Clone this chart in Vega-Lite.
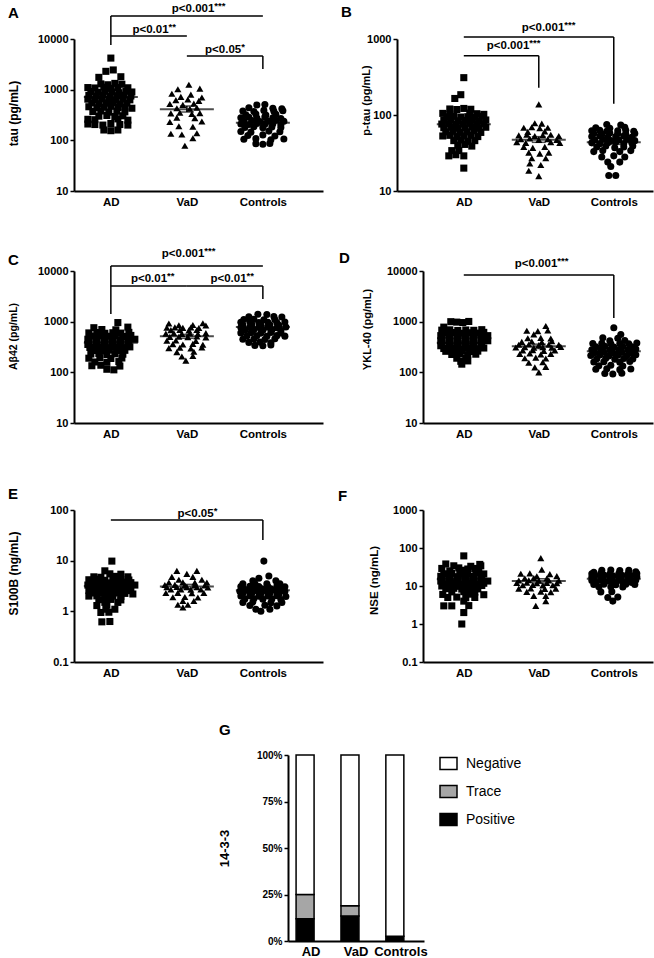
{
  "$schema": "https://vega.github.io/schema/vega-lite/v6.json",
  "background": "white",
  "padding": {"left": 7, "top": 0, "right": 2, "bottom": 2},
  "config": {
    "font": "Liberation Sans",
    "view": {"stroke": null},
    "axis": {"grid": false, "domainColor": "black", "domainWidth": 2, "tickColor": "black", "tickWidth": 1.5, "labelColor": "black", "titleColor": "black", "labelFontWeight": "bold", "titleFontWeight": "bold", "titleFontSize": 11},
    "axisX": {"ticks": false, "labelFontSize": 11.5, "labelPadding": 5, "labelAngle": 0},
    "axisY": {"tickSize": 4, "labelFontSize": 11, "labelPadding": 2, "titleAngle": -90, "titleBaseline": "middle", "titleAlign": "center", "format": "~g"},
    "title": {"fontSize": 15, "fontWeight": "bold", "anchor": "start", "frame": "group", "color": "black"}
  },
  "datasets": {
    "pa": [
      {"g":"AD","v":4200,"j":0},{"g":"AD","v":2300,"j":-0.25},{"g":"AD","v":2450,"j":0.12},{"g":"AD","v":1750,"j":-0.6},{"g":"AD","v":1800,"j":0.5},
      {"g":"AD","v":1300,"j":-0.5},{"g":"AD","v":1250,"j":-0.15},{"g":"AD","v":1330,"j":0.2},{"g":"AD","v":1280,"j":0.55},
      {"g":"AD","v":1100,"j":-1.15},{"g":"AD","v":1080,"j":-0.8},{"g":"AD","v":1120,"j":-0.35},{"g":"AD","v":1060,"j":0},{"g":"AD","v":1100,"j":0.35},{"g":"AD","v":1090,"j":0.85},
      {"g":"AD","v":920,"j":-1.0},{"g":"AD","v":890,"j":-0.65},{"g":"AD","v":940,"j":-0.3},{"g":"AD","v":900,"j":0.05},{"g":"AD","v":870,"j":0.4},{"g":"AD","v":930,"j":0.75},{"g":"AD","v":900,"j":1.05},
      {"g":"AD","v":770,"j":-1.1},{"g":"AD","v":750,"j":-0.75},{"g":"AD","v":790,"j":-0.4},{"g":"AD","v":740,"j":-0.05},{"g":"AD","v":760,"j":0.3},{"g":"AD","v":780,"j":0.65},{"g":"AD","v":750,"j":1.0},
      {"g":"AD","v":650,"j":-1.15},{"g":"AD","v":630,"j":-0.8},{"g":"AD","v":660,"j":-0.45},{"g":"AD","v":640,"j":-0.1},{"g":"AD","v":620,"j":0.25},{"g":"AD","v":650,"j":0.6},{"g":"AD","v":630,"j":0.95},
      {"g":"AD","v":550,"j":-0.95},{"g":"AD","v":530,"j":-0.6},{"g":"AD","v":540,"j":-0.25},{"g":"AD","v":560,"j":0.1},{"g":"AD","v":520,"j":0.45},{"g":"AD","v":545,"j":0.8},
      {"g":"AD","v":460,"j":-1.1},{"g":"AD","v":440,"j":-0.7},{"g":"AD","v":450,"j":-0.35},{"g":"AD","v":470,"j":0},{"g":"AD","v":445,"j":0.35},{"g":"AD","v":455,"j":0.7},{"g":"AD","v":430,"j":1.05},
      {"g":"AD","v":370,"j":-0.9},{"g":"AD","v":380,"j":-0.5},{"g":"AD","v":360,"j":-0.1},{"g":"AD","v":375,"j":0.3},{"g":"AD","v":365,"j":0.7},
      {"g":"AD","v":300,"j":-0.6},{"g":"AD","v":310,"j":-0.2},{"g":"AD","v":295,"j":0.2},{"g":"AD","v":305,"j":0.6},
      {"g":"AD","v":260,"j":-1.15},{"g":"AD","v":255,"j":-0.8},{"g":"AD","v":265,"j":0.35},{"g":"AD","v":250,"j":0.85},
      {"g":"AD","v":210,"j":-1.15},{"g":"AD","v":205,"j":-0.8},{"g":"AD","v":200,"j":-0.4},{"g":"AD","v":215,"j":0},{"g":"AD","v":205,"j":0.45},{"g":"AD","v":200,"j":0.85},
      {"g":"AD","v":160,"j":-0.35},{"g":"AD","v":155,"j":0},{"g":"AD","v":160,"j":0.35},
      {"g":"VaD","v":1250,"j":0.1},{"g":"VaD","v":1020,"j":-0.45},{"g":"VaD","v":1050,"j":0.65},{"g":"VaD","v":830,"j":-0.75},{"g":"VaD","v":800,"j":0.2},
      {"g":"VaD","v":720,"j":-0.3},{"g":"VaD","v":700,"j":0.75},{"g":"VaD","v":620,"j":-0.55},{"g":"VaD","v":640,"j":0.05},{"g":"VaD","v":600,"j":0.6},
      {"g":"VaD","v":520,"j":-0.85},{"g":"VaD","v":500,"j":-0.2},{"g":"VaD","v":530,"j":0.35},{"g":"VaD","v":430,"j":-0.5},{"g":"VaD","v":420,"j":0.15},{"g":"VaD","v":440,"j":0.5},
      {"g":"VaD","v":340,"j":-0.8},{"g":"VaD","v":350,"j":-0.35},{"g":"VaD","v":330,"j":0.25},{"g":"VaD","v":345,"j":0.65},{"g":"VaD","v":280,"j":-0.5},{"g":"VaD","v":275,"j":0.4},
      {"g":"VaD","v":230,"j":-0.85},{"g":"VaD","v":235,"j":0.75},{"g":"VaD","v":190,"j":-0.4},{"g":"VaD","v":185,"j":0.3},
      {"g":"VaD","v":135,"j":-0.8},{"g":"VaD","v":130,"j":-0.25},{"g":"VaD","v":138,"j":0.5},{"g":"VaD","v":110,"j":0.3},{"g":"VaD","v":78,"j":-0.1},
      {"g":"Controls","v":500,"j":-0.3},{"g":"Controls","v":510,"j":0.1},{"g":"Controls","v":440,"j":-0.7},{"g":"Controls","v":430,"j":0.5},{"g":"Controls","v":420,"j":0.95},
      {"g":"Controls","v":380,"j":-1.0},{"g":"Controls","v":370,"j":-0.45},{"g":"Controls","v":390,"j":0.05},{"g":"Controls","v":375,"j":0.55},{"g":"Controls","v":385,"j":1.0},
      {"g":"Controls","v":320,"j":-0.85},{"g":"Controls","v":330,"j":-0.35},{"g":"Controls","v":315,"j":0.15},{"g":"Controls","v":325,"j":0.65},
      {"g":"Controls","v":280,"j":-1.1},{"g":"Controls","v":285,"j":-0.7},{"g":"Controls","v":275,"j":-0.3},{"g":"Controls","v":290,"j":0.1},{"g":"Controls","v":280,"j":0.5},{"g":"Controls","v":270,"j":0.9},
      {"g":"Controls","v":240,"j":-0.95},{"g":"Controls","v":245,"j":-0.55},{"g":"Controls","v":235,"j":-0.15},{"g":"Controls","v":240,"j":0.25},{"g":"Controls","v":250,"j":0.65},{"g":"Controls","v":238,"j":1.05},
      {"g":"Controls","v":210,"j":-1.1},{"g":"Controls","v":205,"j":-0.7},{"g":"Controls","v":215,"j":-0.3},{"g":"Controls","v":208,"j":0.1},{"g":"Controls","v":212,"j":0.5},{"g":"Controls","v":205,"j":0.9},
      {"g":"Controls","v":180,"j":-0.9},{"g":"Controls","v":185,"j":-0.45},{"g":"Controls","v":178,"j":0},{"g":"Controls","v":183,"j":0.45},{"g":"Controls","v":180,"j":0.9},
      {"g":"Controls","v":150,"j":-1.1},{"g":"Controls","v":145,"j":-0.6},{"g":"Controls","v":152,"j":0.3},{"g":"Controls","v":148,"j":0.85},
      {"g":"Controls","v":125,"j":-0.75},{"g":"Controls","v":128,"j":0},{"g":"Controls","v":122,"j":0.6},
      {"g":"Controls","v":105,"j":-0.95},{"g":"Controls","v":108,"j":-0.35},{"g":"Controls","v":103,"j":0.4},{"g":"Controls","v":106,"j":1.05},
      {"g":"Controls","v":86,"j":-0.35},{"g":"Controls","v":84,"j":0},{"g":"Controls","v":87,"j":0.35}
    ],
    "ma": [{"g":"AD","v":716},{"g":"VaD","v":409},{"g":"Controls","v":223}],
    "sa": [{"g":"AD","v":630,"v2":810},{"g":"VaD","v":362,"v2":476},{"g":"Controls","v":205,"v2":243}],
    "ba": [{"g":"AD","b":"Controls","v":28400,"v2":28400},{"g":"AD","b":"AD","v":28400,"v2":7620},{"g":"AD","b":"VaD","v":11460,"v2":11460},{"g":"VaD","b":"Controls","v":4620,"v2":4620},{"g":"Controls","b":"Controls","v":4620,"v2":2560}],
    "ta": [{"g":"VaD","j":1.375,"v":39100,"t":"p<0.001","s":"***"},{"g":"AD","j":2.885,"v":15060,"t":"p<0.01","s":"**"},{"g":"Controls","j":-1.085,"v":6070,"t":"p<0.05","s":"*"}],
    "pb": [
      {"g":"AD","v":310,"j":0},{"g":"AD","v":185,"j":-0.15},{"g":"AD","v":165,"j":-0.45},
      {"g":"AD","v":120,"j":-0.7},{"g":"AD","v":118,"j":-0.35},{"g":"AD","v":122,"j":0},{"g":"AD","v":119,"j":0.35},
      {"g":"AD","v":105,"j":-1.05},{"g":"AD","v":103,"j":-0.7},{"g":"AD","v":106,"j":0.3},{"g":"AD","v":104,"j":0.65},{"g":"AD","v":102,"j":1.0},
      {"g":"AD","v":95,"j":-0.85},{"g":"AD","v":96,"j":-0.5},{"g":"AD","v":94,"j":-0.15},{"g":"AD","v":95,"j":0.2},{"g":"AD","v":93,"j":0.55},{"g":"AD","v":96,"j":0.9},
      {"g":"AD","v":85,"j":-1.0},{"g":"AD","v":86,"j":-0.65},{"g":"AD","v":84,"j":-0.3},{"g":"AD","v":85,"j":0.05},{"g":"AD","v":87,"j":0.4},{"g":"AD","v":84,"j":0.75},{"g":"AD","v":86,"j":1.1},
      {"g":"AD","v":76,"j":-1.1},{"g":"AD","v":77,"j":-0.75},{"g":"AD","v":75,"j":-0.4},{"g":"AD","v":76,"j":-0.05},{"g":"AD","v":78,"j":0.3},{"g":"AD","v":75,"j":0.65},{"g":"AD","v":77,"j":1.0},
      {"g":"AD","v":68,"j":-1.0},{"g":"AD","v":69,"j":-0.65},{"g":"AD","v":67,"j":-0.3},{"g":"AD","v":68,"j":0.05},{"g":"AD","v":70,"j":0.4},{"g":"AD","v":67,"j":0.75},{"g":"AD","v":69,"j":1.1},
      {"g":"AD","v":60,"j":-0.9},{"g":"AD","v":61,"j":-0.55},{"g":"AD","v":59,"j":-0.2},{"g":"AD","v":60,"j":0.15},{"g":"AD","v":62,"j":0.5},{"g":"AD","v":59,"j":0.85},
      {"g":"AD","v":53,"j":-1.05},{"g":"AD","v":54,"j":-0.7},{"g":"AD","v":52,"j":-0.35},{"g":"AD","v":53,"j":0},{"g":"AD","v":54,"j":0.35},{"g":"AD","v":52,"j":0.7},
      {"g":"AD","v":46,"j":-0.5},{"g":"AD","v":47,"j":-0.15},{"g":"AD","v":45,"j":0.2},{"g":"AD","v":46,"j":0.55},
      {"g":"AD","v":40,"j":-0.3},{"g":"AD","v":41,"j":0.05},{"g":"AD","v":39,"j":0.4},{"g":"AD","v":34,"j":-0.6},{"g":"AD","v":34,"j":-0.25},
      {"g":"AD","v":29,"j":-0.75},{"g":"AD","v":30,"j":-0.4},{"g":"AD","v":29,"j":0},{"g":"AD","v":20,"j":0},
      {"g":"VaD","v":138,"j":0},{"g":"VaD","v":78,"j":-0.2},{"g":"VaD","v":77,"j":0.15},
      {"g":"VaD","v":68,"j":-0.75},{"g":"VaD","v":69,"j":-0.35},{"g":"VaD","v":67,"j":0.05},{"g":"VaD","v":68,"j":0.45},{"g":"VaD","v":60,"j":-0.55},{"g":"VaD","v":61,"j":0.3},
      {"g":"VaD","v":54,"j":-1.0},{"g":"VaD","v":55,"j":-0.6},{"g":"VaD","v":53,"j":-0.2},{"g":"VaD","v":54,"j":0.2},{"g":"VaD","v":55,"j":0.6},{"g":"VaD","v":53,"j":1.0},
      {"g":"VaD","v":48,"j":-0.9},{"g":"VaD","v":49,"j":-0.45},{"g":"VaD","v":47,"j":0},{"g":"VaD","v":48,"j":0.45},{"g":"VaD","v":47,"j":0.9},
      {"g":"VaD","v":44,"j":-1.1},{"g":"VaD","v":43,"j":-0.65},{"g":"VaD","v":44,"j":0.6},{"g":"VaD","v":43,"j":1.05},
      {"g":"VaD","v":38,"j":-0.75},{"g":"VaD","v":37,"j":-0.3},{"g":"VaD","v":38,"j":0.3},{"g":"VaD","v":32,"j":-0.5},{"g":"VaD","v":31,"j":0.05},{"g":"VaD","v":32,"j":0.5},
      {"g":"VaD","v":27,"j":-0.35},{"g":"VaD","v":27,"j":0.35},{"g":"VaD","v":23,"j":-0.45},{"g":"VaD","v":22,"j":0.1},{"g":"VaD","v":18.5,"j":-0.5},{"g":"VaD","v":15.7,"j":0},
      {"g":"Controls","v":75,"j":-0.35},{"g":"Controls","v":74,"j":0.35},{"g":"Controls","v":68,"j":-0.9},{"g":"Controls","v":67,"j":-0.2},{"g":"Controls","v":69,"j":0.55},
      {"g":"Controls","v":62,"j":-1.1},{"g":"Controls","v":63,"j":-0.7},{"g":"Controls","v":61,"j":-0.35},{"g":"Controls","v":62,"j":0.2},{"g":"Controls","v":63,"j":0.6},{"g":"Controls","v":61,"j":1.0},
      {"g":"Controls","v":57,"j":-1.0},{"g":"Controls","v":56,"j":-0.6},{"g":"Controls","v":58,"j":-0.2},{"g":"Controls","v":57,"j":0.2},{"g":"Controls","v":56,"j":0.6},{"g":"Controls","v":57,"j":1.05},
      {"g":"Controls","v":52,"j":-1.1},{"g":"Controls","v":53,"j":-0.7},{"g":"Controls","v":51,"j":-0.3},{"g":"Controls","v":52,"j":0.1},{"g":"Controls","v":53,"j":0.5},{"g":"Controls","v":51,"j":0.9},
      {"g":"Controls","v":47,"j":-0.95},{"g":"Controls","v":48,"j":-0.55},{"g":"Controls","v":46,"j":-0.15},{"g":"Controls","v":47,"j":0.25},{"g":"Controls","v":48,"j":0.65},{"g":"Controls","v":46,"j":1.05},
      {"g":"Controls","v":43,"j":-1.1},{"g":"Controls","v":42,"j":-0.7},{"g":"Controls","v":43,"j":-0.3},{"g":"Controls","v":44,"j":0.1},{"g":"Controls","v":42,"j":0.5},{"g":"Controls","v":43,"j":0.9},
      {"g":"Controls","v":38,"j":-0.85},{"g":"Controls","v":39,"j":-0.4},{"g":"Controls","v":37,"j":0.05},{"g":"Controls","v":38,"j":0.5},{"g":"Controls","v":39,"j":0.95},
      {"g":"Controls","v":33,"j":-1.0},{"g":"Controls","v":34,"j":-0.55},{"g":"Controls","v":33,"j":0.3},{"g":"Controls","v":34,"j":0.85},
      {"g":"Controls","v":28,"j":-0.6},{"g":"Controls","v":29,"j":0},{"g":"Controls","v":28,"j":0.55},{"g":"Controls","v":24,"j":-0.3},{"g":"Controls","v":24,"j":0.3},
      {"g":"Controls","v":21,"j":-0.15},{"g":"Controls","v":16,"j":-0.25},{"g":"Controls","v":16,"j":0.1}
    ],
    "mb": [{"g":"AD","v":75.8},{"g":"VaD","v":47.4},{"g":"Controls","v":43.7}],
    "sb": [{"g":"AD","v":71,"v2":81},{"g":"VaD","v":43.7,"v2":51.9},{"g":"Controls","v":41,"v2":47}],
    "bb": [{"g":"AD","b":"Controls","v":1062,"v2":1062},{"g":"Controls","b":"Controls","v":1062,"v2":141},{"g":"AD","b":"VaD","v":600,"v2":600},{"g":"VaD","b":"VaD","v":600,"v2":229}],
    "tb": [{"g":"VaD","j":1.275,"v":1393,"t":"p<0.001","s":"***"},{"g":"VaD","j":-0.475,"v":810,"t":"p<0.001","s":"***"}],
    "pc": [
      {"g":"AD","v":960,"j":0.35},{"g":"AD","v":760,"j":-0.85},{"g":"AD","v":780,"j":0.85},{"g":"AD","v":700,"j":-0.45},{"g":"AD","v":690,"j":0.25},
      {"g":"AD","v":600,"j":-1.1},{"g":"AD","v":610,"j":-0.7},{"g":"AD","v":590,"j":-0.3},{"g":"AD","v":605,"j":0.1},{"g":"AD","v":595,"j":0.5},{"g":"AD","v":615,"j":0.9},
      {"g":"AD","v":520,"j":-1.0},{"g":"AD","v":530,"j":-0.6},{"g":"AD","v":515,"j":-0.2},{"g":"AD","v":525,"j":0.2},{"g":"AD","v":510,"j":0.6},{"g":"AD","v":535,"j":1.0},
      {"g":"AD","v":450,"j":-1.15},{"g":"AD","v":460,"j":-0.75},{"g":"AD","v":445,"j":-0.35},{"g":"AD","v":455,"j":0.05},{"g":"AD","v":440,"j":0.45},{"g":"AD","v":465,"j":0.85},{"g":"AD","v":450,"j":1.2},
      {"g":"AD","v":400,"j":-1.1},{"g":"AD","v":395,"j":-0.7},{"g":"AD","v":405,"j":-0.3},{"g":"AD","v":398,"j":0.1},{"g":"AD","v":410,"j":0.5},{"g":"AD","v":392,"j":0.9},
      {"g":"AD","v":355,"j":-1.15},{"g":"AD","v":360,"j":-0.75},{"g":"AD","v":350,"j":-0.35},{"g":"AD","v":358,"j":0.05},{"g":"AD","v":352,"j":0.45},{"g":"AD","v":362,"j":0.85},
      {"g":"AD","v":310,"j":-1.05},{"g":"AD","v":315,"j":-0.65},{"g":"AD","v":305,"j":-0.25},{"g":"AD","v":312,"j":0.15},{"g":"AD","v":308,"j":0.55},{"g":"AD","v":318,"j":0.95},
      {"g":"AD","v":270,"j":-0.9},{"g":"AD","v":265,"j":-0.5},{"g":"AD","v":275,"j":-0.1},{"g":"AD","v":268,"j":0.3},{"g":"AD","v":272,"j":0.7},
      {"g":"AD","v":230,"j":-1.0},{"g":"AD","v":235,"j":-0.6},{"g":"AD","v":225,"j":-0.2},{"g":"AD","v":232,"j":0.2},{"g":"AD","v":228,"j":0.6},
      {"g":"AD","v":190,"j":-1.1},{"g":"AD","v":195,"j":-0.55},{"g":"AD","v":188,"j":0},{"g":"AD","v":192,"j":0.55},
      {"g":"AD","v":160,"j":-0.8},{"g":"AD","v":158,"j":-0.2},{"g":"AD","v":163,"j":0.4},{"g":"AD","v":135,"j":-0.95},{"g":"AD","v":138,"j":-0.5},{"g":"AD","v":133,"j":0.45},
      {"g":"AD","v":115,"j":-0.2},{"g":"AD","v":112,"j":0.15},
      {"g":"VaD","v":920,"j":-0.9},{"g":"VaD","v":930,"j":0.8},{"g":"VaD","v":850,"j":-0.4},{"g":"VaD","v":860,"j":0.3},{"g":"VaD","v":840,"j":0.95},
      {"g":"VaD","v":760,"j":-1.0},{"g":"VaD","v":770,"j":-0.6},{"g":"VaD","v":755,"j":-0.2},{"g":"VaD","v":765,"j":0.2},{"g":"VaD","v":750,"j":0.6},
      {"g":"VaD","v":680,"j":-0.8},{"g":"VaD","v":690,"j":-0.35},{"g":"VaD","v":675,"j":0.1},{"g":"VaD","v":685,"j":0.5},
      {"g":"VaD","v":580,"j":-1.05},{"g":"VaD","v":590,"j":-0.65},{"g":"VaD","v":575,"j":-0.25},{"g":"VaD","v":585,"j":0.15},{"g":"VaD","v":570,"j":0.55},{"g":"VaD","v":595,"j":0.95},
      {"g":"VaD","v":500,"j":-0.85},{"g":"VaD","v":505,"j":-0.4},{"g":"VaD","v":495,"j":0.05},{"g":"VaD","v":510,"j":0.5},{"g":"VaD","v":490,"j":0.95},
      {"g":"VaD","v":420,"j":-1.0},{"g":"VaD","v":425,"j":-0.55},{"g":"VaD","v":415,"j":0.45},
      {"g":"VaD","v":360,"j":-0.7},{"g":"VaD","v":355,"j":-0.2},{"g":"VaD","v":365,"j":0.3},{"g":"VaD","v":350,"j":0.8},
      {"g":"VaD","v":300,"j":-0.9},{"g":"VaD","v":305,"j":-0.35},{"g":"VaD","v":295,"j":0.2},{"g":"VaD","v":310,"j":0.75},
      {"g":"VaD","v":250,"j":-0.5},{"g":"VaD","v":255,"j":0.35},{"g":"VaD","v":205,"j":-0.25},{"g":"VaD","v":210,"j":0.3},{"g":"VaD","v":170,"j":-0.05},
      {"g":"Controls","v":1400,"j":-0.25},{"g":"Controls","v":1380,"j":0.2},{"g":"Controls","v":1250,"j":-0.7},{"g":"Controls","v":1260,"j":0.55},{"g":"Controls","v":1240,"j":0.95},
      {"g":"Controls","v":1100,"j":-0.95},{"g":"Controls","v":1110,"j":-0.45},{"g":"Controls","v":1090,"j":0.05},{"g":"Controls","v":1105,"j":0.6},
      {"g":"Controls","v":970,"j":-1.1},{"g":"Controls","v":980,"j":-0.65},{"g":"Controls","v":960,"j":-0.2},{"g":"Controls","v":975,"j":0.25},{"g":"Controls","v":965,"j":0.7},{"g":"Controls","v":985,"j":1.1},
      {"g":"Controls","v":860,"j":-1.0},{"g":"Controls","v":870,"j":-0.55},{"g":"Controls","v":855,"j":-0.1},{"g":"Controls","v":865,"j":0.35},{"g":"Controls","v":850,"j":0.8},
      {"g":"Controls","v":770,"j":-1.1},{"g":"Controls","v":780,"j":-0.65},{"g":"Controls","v":765,"j":-0.2},{"g":"Controls","v":775,"j":0.25},{"g":"Controls","v":760,"j":0.7},{"g":"Controls","v":785,"j":1.15},
      {"g":"Controls","v":680,"j":-0.9},{"g":"Controls","v":690,"j":-0.45},{"g":"Controls","v":675,"j":0},{"g":"Controls","v":685,"j":0.45},{"g":"Controls","v":670,"j":0.9},
      {"g":"Controls","v":600,"j":-1.1},{"g":"Controls","v":605,"j":-0.6},{"g":"Controls","v":595,"j":-0.1},{"g":"Controls","v":610,"j":0.4},{"g":"Controls","v":598,"j":0.9},
      {"g":"Controls","v":520,"j":-0.8},{"g":"Controls","v":525,"j":-0.3},{"g":"Controls","v":515,"j":0.2},{"g":"Controls","v":530,"j":0.7},{"g":"Controls","v":518,"j":1.1},
      {"g":"Controls","v":450,"j":-1.0},{"g":"Controls","v":455,"j":-0.45},{"g":"Controls","v":445,"j":0.1},{"g":"Controls","v":460,"j":0.6},
      {"g":"Controls","v":390,"j":-0.7},{"g":"Controls","v":395,"j":-0.15},{"g":"Controls","v":385,"j":0.4},{"g":"Controls","v":340,"j":-0.4},{"g":"Controls","v":335,"j":0},{"g":"Controls","v":345,"j":0.4}
    ],
    "mc": [{"g":"AD","v":385},{"g":"VaD","v":514},{"g":"Controls","v":785}],
    "sc": [{"g":"AD","v":355,"v2":415},{"g":"VaD","v":470,"v2":560},{"g":"Controls","v":730,"v2":845}],
    "bc": [{"g":"AD","b":"Controls","v":12560,"v2":12560},{"g":"AD","b":"AD","v":12560,"v2":1416},{"g":"AD","b":"VaD","v":5060,"v2":5060},{"g":"VaD","b":"Controls","v":5060,"v2":5060},{"g":"Controls","b":"Controls","v":5060,"v2":2800}],
    "tc": [{"g":"VaD","j":0.875,"v":21670,"t":"p<0.001","s":"***"},{"g":"VaD","j":-0.99,"v":6950,"t":"p<0.01","s":"**"},{"g":"Controls","j":-0.815,"v":6950,"t":"p<0.01","s":"**"}],
    "pd": [
      {"g":"AD","v":1000,"j":-0.65},{"g":"AD","v":980,"j":-0.35},{"g":"AD","v":960,"j":-0.05},{"g":"AD","v":1010,"j":0.25},{"g":"AD","v":780,"j":-1.0},
      {"g":"AD","v":680,"j":-1.1},{"g":"AD","v":690,"j":-0.7},{"g":"AD","v":670,"j":-0.3},{"g":"AD","v":685,"j":0.1},{"g":"AD","v":675,"j":0.5},{"g":"AD","v":695,"j":0.9},
      {"g":"AD","v":600,"j":-1.0},{"g":"AD","v":610,"j":-0.6},{"g":"AD","v":590,"j":-0.2},{"g":"AD","v":605,"j":0.2},{"g":"AD","v":595,"j":0.6},{"g":"AD","v":615,"j":1.0},
      {"g":"AD","v":530,"j":-1.15},{"g":"AD","v":540,"j":-0.75},{"g":"AD","v":525,"j":-0.35},{"g":"AD","v":535,"j":0.05},{"g":"AD","v":520,"j":0.45},{"g":"AD","v":545,"j":0.85},{"g":"AD","v":530,"j":1.2},
      {"g":"AD","v":470,"j":-1.1},{"g":"AD","v":465,"j":-0.7},{"g":"AD","v":475,"j":-0.3},{"g":"AD","v":468,"j":0.1},{"g":"AD","v":480,"j":0.5},{"g":"AD","v":462,"j":0.9},
      {"g":"AD","v":420,"j":-1.15},{"g":"AD","v":425,"j":-0.75},{"g":"AD","v":415,"j":-0.35},{"g":"AD","v":422,"j":0.05},{"g":"AD","v":418,"j":0.45},{"g":"AD","v":428,"j":0.85},{"g":"AD","v":420,"j":1.2},
      {"g":"AD","v":375,"j":-1.1},{"g":"AD","v":380,"j":-0.7},{"g":"AD","v":370,"j":-0.3},{"g":"AD","v":378,"j":0.1},{"g":"AD","v":372,"j":0.5},{"g":"AD","v":382,"j":0.9},
      {"g":"AD","v":335,"j":-1.15},{"g":"AD","v":340,"j":-0.75},{"g":"AD","v":330,"j":-0.35},{"g":"AD","v":338,"j":0.05},{"g":"AD","v":332,"j":0.45},{"g":"AD","v":342,"j":0.85},
      {"g":"AD","v":295,"j":-1.0},{"g":"AD","v":300,"j":-0.6},{"g":"AD","v":290,"j":-0.2},{"g":"AD","v":298,"j":0.2},{"g":"AD","v":292,"j":0.6},{"g":"AD","v":302,"j":1.0},
      {"g":"AD","v":260,"j":-0.9},{"g":"AD","v":255,"j":-0.5},{"g":"AD","v":265,"j":-0.1},{"g":"AD","v":258,"j":0.3},{"g":"AD","v":262,"j":0.7},
      {"g":"AD","v":225,"j":-0.6},{"g":"AD","v":230,"j":-0.2},{"g":"AD","v":222,"j":0.2},{"g":"AD","v":228,"j":0.6},
      {"g":"AD","v":190,"j":-0.35},{"g":"AD","v":192,"j":0.1},{"g":"AD","v":165,"j":-0.15},{"g":"AD","v":168,"j":0.2},{"g":"AD","v":145,"j":-0.1},
      {"g":"VaD","v":820,"j":0.35},{"g":"VaD","v":660,"j":-0.6},{"g":"VaD","v":650,"j":-0.05},{"g":"VaD","v":670,"j":0.45},{"g":"VaD","v":560,"j":-0.25},
      {"g":"VaD","v":470,"j":-0.55},{"g":"VaD","v":480,"j":0.1},{"g":"VaD","v":465,"j":0.6},
      {"g":"VaD","v":400,"j":-0.85},{"g":"VaD","v":405,"j":-0.35},{"g":"VaD","v":395,"j":0.15},{"g":"VaD","v":410,"j":0.65},
      {"g":"VaD","v":350,"j":-1.0},{"g":"VaD","v":355,"j":-0.5},{"g":"VaD","v":345,"j":0},{"g":"VaD","v":352,"j":0.5},{"g":"VaD","v":348,"j":1.0},
      {"g":"VaD","v":310,"j":-1.15},{"g":"VaD","v":315,"j":-0.7},{"g":"VaD","v":305,"j":-0.25},{"g":"VaD","v":312,"j":0.2},{"g":"VaD","v":308,"j":0.65},{"g":"VaD","v":318,"j":1.1},
      {"g":"VaD","v":270,"j":-0.8},{"g":"VaD","v":275,"j":-0.3},{"g":"VaD","v":265,"j":0.25},{"g":"VaD","v":272,"j":0.8},
      {"g":"VaD","v":230,"j":-0.95},{"g":"VaD","v":235,"j":-0.45},{"g":"VaD","v":225,"j":0.1},{"g":"VaD","v":232,"j":0.6},
      {"g":"VaD","v":190,"j":-0.7},{"g":"VaD","v":195,"j":-0.15},{"g":"VaD","v":188,"j":0.35},{"g":"VaD","v":155,"j":-0.5},{"g":"VaD","v":158,"j":0.2},
      {"g":"VaD","v":125,"j":-0.2},{"g":"VaD","v":128,"j":0.35},{"g":"VaD","v":100,"j":0},
      {"g":"Controls","v":760,"j":0},{"g":"Controls","v":560,"j":0.35},{"g":"Controls","v":480,"j":-0.55},{"g":"Controls","v":470,"j":0.2},{"g":"Controls","v":420,"j":-0.2},{"g":"Controls","v":425,"j":0.55},
      {"g":"Controls","v":370,"j":-1.05},{"g":"Controls","v":375,"j":-0.6},{"g":"Controls","v":365,"j":-0.15},{"g":"Controls","v":372,"j":0.3},{"g":"Controls","v":368,"j":0.75},{"g":"Controls","v":378,"j":1.15},
      {"g":"Controls","v":320,"j":-0.9},{"g":"Controls","v":325,"j":-0.45},{"g":"Controls","v":315,"j":0},{"g":"Controls","v":322,"j":0.45},{"g":"Controls","v":318,"j":0.9},
      {"g":"Controls","v":280,"j":-1.1},{"g":"Controls","v":285,"j":-0.65},{"g":"Controls","v":275,"j":-0.2},{"g":"Controls","v":282,"j":0.25},{"g":"Controls","v":278,"j":0.7},{"g":"Controls","v":288,"j":1.1},
      {"g":"Controls","v":245,"j":-0.95},{"g":"Controls","v":250,"j":-0.5},{"g":"Controls","v":240,"j":-0.05},{"g":"Controls","v":248,"j":0.4},{"g":"Controls","v":242,"j":0.85},
      {"g":"Controls","v":215,"j":-1.15},{"g":"Controls","v":220,"j":-0.7},{"g":"Controls","v":210,"j":-0.25},{"g":"Controls","v":218,"j":0.2},{"g":"Controls","v":212,"j":0.65},{"g":"Controls","v":222,"j":1.1},
      {"g":"Controls","v":185,"j":-0.85},{"g":"Controls","v":190,"j":-0.4},{"g":"Controls","v":182,"j":0.05},{"g":"Controls","v":188,"j":0.5},{"g":"Controls","v":184,"j":0.95},
      {"g":"Controls","v":160,"j":-1.0},{"g":"Controls","v":162,"j":-0.5},{"g":"Controls","v":158,"j":0.3},{"g":"Controls","v":163,"j":0.8},
      {"g":"Controls","v":135,"j":-0.75},{"g":"Controls","v":138,"j":-0.15},{"g":"Controls","v":133,"j":0.45},
      {"g":"Controls","v":115,"j":-0.9},{"g":"Controls","v":118,"j":-0.35},{"g":"Controls","v":113,"j":0.3},{"g":"Controls","v":116,"j":0.85},
      {"g":"Controls","v":95,"j":-0.45},{"g":"Controls","v":93,"j":-0.05},{"g":"Controls","v":96,"j":0.4}
    ],
    "md": [{"g":"AD","v":385},{"g":"VaD","v":327},{"g":"Controls","v":260}],
    "sd": [{"g":"AD","v":360,"v2":410},{"g":"VaD","v":295,"v2":360},{"g":"Controls","v":235,"v2":285}],
    "bd": [{"g":"AD","b":"Controls","v":8340,"v2":8340},{"g":"Controls","b":"Controls","v":8340,"v2":1180}],
    "td": [{"g":"VaD","j":0.925,"v":13740,"t":"p<0.001","s":"***"}],
    "pe": [
      {"g":"AD","v":9.8,"j":0.05},{"g":"AD","v":6.3,"j":-0.3},{"g":"AD","v":5.4,"j":0.5},{"g":"AD","v":5.5,"j":-0.05},
      {"g":"AD","v":4.8,"j":-0.85},{"g":"AD","v":4.7,"j":-0.5},{"g":"AD","v":4.9,"j":0.2},{"g":"AD","v":4.8,"j":0.85},
      {"g":"AD","v":4.2,"j":-1.1},{"g":"AD","v":4.3,"j":-0.7},{"g":"AD","v":4.1,"j":-0.3},{"g":"AD","v":4.2,"j":0.1},{"g":"AD","v":4.25,"j":0.5},{"g":"AD","v":4.15,"j":0.9},
      {"g":"AD","v":3.7,"j":-1.0},{"g":"AD","v":3.75,"j":-0.6},{"g":"AD","v":3.65,"j":-0.2},{"g":"AD","v":3.7,"j":0.2},{"g":"AD","v":3.8,"j":0.6},{"g":"AD","v":3.68,"j":1.0},
      {"g":"AD","v":3.3,"j":-1.15},{"g":"AD","v":3.35,"j":-0.75},{"g":"AD","v":3.25,"j":-0.35},{"g":"AD","v":3.3,"j":0.05},{"g":"AD","v":3.28,"j":0.45},{"g":"AD","v":3.36,"j":0.85},{"g":"AD","v":3.3,"j":1.2},
      {"g":"AD","v":2.9,"j":-1.0},{"g":"AD","v":2.95,"j":-0.6},{"g":"AD","v":2.88,"j":-0.2},{"g":"AD","v":2.92,"j":0.2},{"g":"AD","v":2.86,"j":0.6},{"g":"AD","v":2.94,"j":1.0},
      {"g":"AD","v":2.6,"j":-1.1},{"g":"AD","v":2.62,"j":-0.7},{"g":"AD","v":2.58,"j":-0.3},{"g":"AD","v":2.6,"j":0.1},{"g":"AD","v":2.64,"j":0.5},{"g":"AD","v":2.56,"j":0.9},
      {"g":"AD","v":2.3,"j":-0.9},{"g":"AD","v":2.32,"j":-0.5},{"g":"AD","v":2.28,"j":-0.1},{"g":"AD","v":2.3,"j":0.3},{"g":"AD","v":2.26,"j":0.7},{"g":"AD","v":2.2,"j":1.1},
      {"g":"AD","v":2.0,"j":-1.1},{"g":"AD","v":2.02,"j":-0.7},{"g":"AD","v":1.98,"j":-0.3},{"g":"AD","v":2.0,"j":0.1},{"g":"AD","v":1.96,"j":0.5},
      {"g":"AD","v":1.7,"j":-0.6},{"g":"AD","v":1.72,"j":0},{"g":"AD","v":1.68,"j":0.5},{"g":"AD","v":1.5,"j":-0.3},{"g":"AD","v":1.5,"j":0.35},
      {"g":"AD","v":1.3,"j":-0.7},{"g":"AD","v":1.32,"j":-0.2},{"g":"AD","v":1.1,"j":-0.25},{"g":"AD","v":1.1,"j":0.2},{"g":"AD","v":0.95,"j":-0.5},{"g":"AD","v":0.96,"j":-0.1},
      {"g":"AD","v":0.62,"j":-0.45},{"g":"AD","v":0.63,"j":-0.05},
      {"g":"VaD","v":6.3,"j":-0.5},{"g":"VaD","v":6.3,"j":0.5},{"g":"VaD","v":5.5,"j":0},{"g":"VaD","v":4.8,"j":-0.75},{"g":"VaD","v":4.8,"j":0.3},{"g":"VaD","v":4.2,"j":-0.4},{"g":"VaD","v":4.2,"j":0.75},
      {"g":"VaD","v":3.7,"j":-0.9},{"g":"VaD","v":3.72,"j":-0.2},{"g":"VaD","v":3.68,"j":0.4},{"g":"VaD","v":3.7,"j":1.0},
      {"g":"VaD","v":3.3,"j":-1.1},{"g":"VaD","v":3.32,"j":-0.6},{"g":"VaD","v":3.28,"j":-0.1},{"g":"VaD","v":3.3,"j":0.4},{"g":"VaD","v":3.26,"j":0.9},
      {"g":"VaD","v":3.0,"j":-1.0},{"g":"VaD","v":3.02,"j":-0.5},{"g":"VaD","v":2.98,"j":0},{"g":"VaD","v":3.0,"j":0.5},{"g":"VaD","v":2.96,"j":1.05},
      {"g":"VaD","v":2.7,"j":-0.8},{"g":"VaD","v":2.72,"j":-0.3},{"g":"VaD","v":2.68,"j":0.2},{"g":"VaD","v":2.7,"j":0.7},
      {"g":"VaD","v":2.3,"j":-1.05},{"g":"VaD","v":2.32,"j":-0.45},{"g":"VaD","v":2.28,"j":0.25},{"g":"VaD","v":2.3,"j":0.85},
      {"g":"VaD","v":1.9,"j":-0.7},{"g":"VaD","v":1.92,"j":-0.1},{"g":"VaD","v":1.88,"j":0.55},{"g":"VaD","v":1.6,"j":-0.2},{"g":"VaD","v":1.6,"j":0.35},
      {"g":"VaD","v":1.35,"j":-0.45},{"g":"VaD","v":1.35,"j":0.05},{"g":"VaD","v":1.2,"j":-0.2},
      {"g":"Controls","v":9.8,"j":0.05},{"g":"Controls","v":5.0,"j":0.3},{"g":"Controls","v":4.5,"j":-0.2},{"g":"Controls","v":4.0,"j":-0.5},{"g":"Controls","v":4.0,"j":0.65},
      {"g":"Controls","v":3.5,"j":-1.0},{"g":"Controls","v":3.52,"j":-0.4},{"g":"Controls","v":3.48,"j":0.2},{"g":"Controls","v":3.5,"j":0.85},
      {"g":"Controls","v":3.1,"j":-1.1},{"g":"Controls","v":3.12,"j":-0.65},{"g":"Controls","v":3.08,"j":-0.2},{"g":"Controls","v":3.1,"j":0.25},{"g":"Controls","v":3.14,"j":0.7},{"g":"Controls","v":3.06,"j":1.1},
      {"g":"Controls","v":2.8,"j":-0.95},{"g":"Controls","v":2.82,"j":-0.5},{"g":"Controls","v":2.78,"j":-0.05},{"g":"Controls","v":2.8,"j":0.4},{"g":"Controls","v":2.76,"j":0.85},
      {"g":"Controls","v":2.5,"j":-1.15},{"g":"Controls","v":2.52,"j":-0.7},{"g":"Controls","v":2.48,"j":-0.25},{"g":"Controls","v":2.5,"j":0.2},{"g":"Controls","v":2.54,"j":0.65},{"g":"Controls","v":2.46,"j":1.1},
      {"g":"Controls","v":2.25,"j":-1.0},{"g":"Controls","v":2.27,"j":-0.55},{"g":"Controls","v":2.23,"j":-0.1},{"g":"Controls","v":2.25,"j":0.35},{"g":"Controls","v":2.21,"j":0.8},
      {"g":"Controls","v":2.0,"j":-1.1},{"g":"Controls","v":2.02,"j":-0.65},{"g":"Controls","v":1.98,"j":-0.2},{"g":"Controls","v":2.0,"j":0.25},{"g":"Controls","v":2.04,"j":0.7},{"g":"Controls","v":1.96,"j":1.15},
      {"g":"Controls","v":1.75,"j":-0.9},{"g":"Controls","v":1.77,"j":-0.45},{"g":"Controls","v":1.73,"j":0},{"g":"Controls","v":1.75,"j":0.45},{"g":"Controls","v":1.71,"j":0.9},
      {"g":"Controls","v":1.5,"j":-1.0},{"g":"Controls","v":1.52,"j":-0.5},{"g":"Controls","v":1.48,"j":0.4},{"g":"Controls","v":1.5,"j":0.95},
      {"g":"Controls","v":1.3,"j":-0.65},{"g":"Controls","v":1.32,"j":0.1},{"g":"Controls","v":1.28,"j":0.7},{"g":"Controls","v":1.1,"j":-0.35},{"g":"Controls","v":1.1,"j":0.35},{"g":"Controls","v":1.0,"j":-0.1}
    ],
    "me": [{"g":"AD","v":3.16},{"g":"VaD","v":3.1},{"g":"Controls","v":2.6}],
    "se": [{"g":"AD","v":2.85,"v2":3.5},{"g":"VaD","v":2.8,"v2":3.4},{"g":"Controls","v":2.4,"v2":2.8}],
    "be": [{"g":"AD","b":"Controls","v":63.5,"v2":63.5},{"g":"Controls","b":"Controls","v":63.5,"v2":25.6}],
    "te": [{"g":"VaD","j":1.34,"v":83.4,"t":"p<0.05","s":"*"}],
    "pf": [
      {"g":"AD","v":62,"j":0},{"g":"AD","v":38,"j":-0.9},{"g":"AD","v":37,"j":0.8},{"g":"AD","v":34,"j":-0.5},{"g":"AD","v":33,"j":0.35},{"g":"AD","v":34,"j":0.85},
      {"g":"AD","v":29,"j":-1.1},{"g":"AD","v":30,"j":-0.25},{"g":"AD","v":28,"j":0.2},{"g":"AD","v":29,"j":0.55},{"g":"AD","v":25,"j":-0.7},{"g":"AD","v":26,"j":0.05},{"g":"AD","v":25,"j":0.75},
      {"g":"AD","v":21,"j":-1.0},{"g":"AD","v":21.5,"j":-0.6},{"g":"AD","v":20.5,"j":-0.2},{"g":"AD","v":21,"j":0.2},{"g":"AD","v":22,"j":0.6},{"g":"AD","v":20.8,"j":1.0},
      {"g":"AD","v":18,"j":-1.15},{"g":"AD","v":18.4,"j":-0.75},{"g":"AD","v":17.6,"j":-0.35},{"g":"AD","v":18.2,"j":0.05},{"g":"AD","v":17.8,"j":0.45},{"g":"AD","v":18.5,"j":0.85},
      {"g":"AD","v":15.5,"j":-1.1},{"g":"AD","v":15.8,"j":-0.7},{"g":"AD","v":15.2,"j":-0.3},{"g":"AD","v":15.6,"j":0.1},{"g":"AD","v":15.4,"j":0.5},{"g":"AD","v":15.9,"j":0.9},
      {"g":"AD","v":13.5,"j":-1.15},{"g":"AD","v":13.7,"j":-0.75},{"g":"AD","v":13.3,"j":-0.35},{"g":"AD","v":13.6,"j":0.05},{"g":"AD","v":13.4,"j":0.45},{"g":"AD","v":13.8,"j":0.85},{"g":"AD","v":13.5,"j":1.2},
      {"g":"AD","v":11.5,"j":-1.0},{"g":"AD","v":11.7,"j":-0.6},{"g":"AD","v":11.3,"j":-0.2},{"g":"AD","v":11.6,"j":0.2},{"g":"AD","v":11.4,"j":0.6},{"g":"AD","v":11.8,"j":1.0},
      {"g":"AD","v":10,"j":-1.1},{"g":"AD","v":10.2,"j":-0.7},{"g":"AD","v":9.8,"j":-0.3},{"g":"AD","v":10.1,"j":0.1},{"g":"AD","v":9.9,"j":0.5},{"g":"AD","v":10.3,"j":0.9},
      {"g":"AD","v":8.5,"j":-0.9},{"g":"AD","v":8.7,"j":-0.5},{"g":"AD","v":8.3,"j":-0.1},{"g":"AD","v":8.6,"j":0.3},{"g":"AD","v":8.4,"j":0.7},
      {"g":"AD","v":7,"j":-0.6},{"g":"AD","v":7.1,"j":0},{"g":"AD","v":6.9,"j":0.55},{"g":"AD","v":6,"j":-1.05},{"g":"AD","v":6.1,"j":0.3},{"g":"AD","v":5.9,"j":1.0},
      {"g":"AD","v":5,"j":-0.8},{"g":"AD","v":5.1,"j":-0.35},{"g":"AD","v":4.9,"j":0.1},{"g":"AD","v":5,"j":0.55},{"g":"AD","v":4,"j":0},
      {"g":"AD","v":3,"j":-1.0},{"g":"AD","v":3,"j":-0.6},{"g":"AD","v":3.05,"j":0.25},{"g":"AD","v":2,"j":0},{"g":"AD","v":1,"j":-0.1},
      {"g":"VaD","v":54,"j":0.1},{"g":"VaD","v":27,"j":0.15},{"g":"VaD","v":21,"j":-0.9},{"g":"VaD","v":21.5,"j":-0.45},{"g":"VaD","v":20.5,"j":0.55},{"g":"VaD","v":18,"j":-0.1},{"g":"VaD","v":18.2,"j":0.9},
      {"g":"VaD","v":16,"j":-0.7},{"g":"VaD","v":16.2,"j":-0.25},{"g":"VaD","v":15.8,"j":0.4},
      {"g":"VaD","v":14,"j":-1.0},{"g":"VaD","v":14.2,"j":-0.5},{"g":"VaD","v":13.8,"j":0},{"g":"VaD","v":14.1,"j":0.5},{"g":"VaD","v":13.9,"j":1.0},
      {"g":"VaD","v":12,"j":-1.1},{"g":"VaD","v":12.2,"j":-0.6},{"g":"VaD","v":11.8,"j":-0.1},{"g":"VaD","v":12.1,"j":0.4},{"g":"VaD","v":11.9,"j":0.9},
      {"g":"VaD","v":10.5,"j":-0.8},{"g":"VaD","v":10.6,"j":-0.3},{"g":"VaD","v":10.4,"j":0.2},{"g":"VaD","v":10.5,"j":0.7},
      {"g":"VaD","v":8.5,"j":-1.0},{"g":"VaD","v":8.6,"j":-0.4},{"g":"VaD","v":8.4,"j":0.3},{"g":"VaD","v":8.5,"j":0.85},
      {"g":"VaD","v":7,"j":-0.6},{"g":"VaD","v":7.1,"j":0.1},{"g":"VaD","v":6.9,"j":0.6},{"g":"VaD","v":5.5,"j":-0.25},{"g":"VaD","v":5.5,"j":0.35},{"g":"VaD","v":4,"j":0.35},{"g":"VaD","v":3,"j":-0.15},
      {"g":"Controls","v":26,"j":-0.6},{"g":"Controls","v":26.5,"j":-0.15},{"g":"Controls","v":25.5,"j":0.3},{"g":"Controls","v":26,"j":0.75},{"g":"Controls","v":23,"j":-1.0},{"g":"Controls","v":23.5,"j":1.1},
      {"g":"Controls","v":21,"j":-1.1},{"g":"Controls","v":21.3,"j":-0.65},{"g":"Controls","v":20.7,"j":-0.2},{"g":"Controls","v":21.2,"j":0.25},{"g":"Controls","v":20.8,"j":0.7},{"g":"Controls","v":21.4,"j":1.15},
      {"g":"Controls","v":19,"j":-0.95},{"g":"Controls","v":19.3,"j":-0.5},{"g":"Controls","v":18.7,"j":-0.05},{"g":"Controls","v":19.2,"j":0.4},{"g":"Controls","v":18.8,"j":0.85},
      {"g":"Controls","v":17,"j":-1.1},{"g":"Controls","v":17.3,"j":-0.65},{"g":"Controls","v":16.7,"j":-0.2},{"g":"Controls","v":17.2,"j":0.25},{"g":"Controls","v":16.8,"j":0.7},{"g":"Controls","v":17.4,"j":1.15},
      {"g":"Controls","v":15.5,"j":-1.0},{"g":"Controls","v":15.7,"j":-0.55},{"g":"Controls","v":15.3,"j":-0.1},{"g":"Controls","v":15.6,"j":0.35},{"g":"Controls","v":15.4,"j":0.8},
      {"g":"Controls","v":14,"j":-1.1},{"g":"Controls","v":14.2,"j":-0.65},{"g":"Controls","v":13.8,"j":-0.2},{"g":"Controls","v":14.1,"j":0.25},{"g":"Controls","v":13.9,"j":0.7},{"g":"Controls","v":14.3,"j":1.1},
      {"g":"Controls","v":12.5,"j":-0.9},{"g":"Controls","v":12.7,"j":-0.45},{"g":"Controls","v":12.3,"j":0},{"g":"Controls","v":12.6,"j":0.45},{"g":"Controls","v":12.4,"j":0.9},
      {"g":"Controls","v":11,"j":-1.0},{"g":"Controls","v":11.2,"j":-0.5},{"g":"Controls","v":10.8,"j":0.1},{"g":"Controls","v":11.1,"j":0.6},{"g":"Controls","v":10.9,"j":1.05},
      {"g":"Controls","v":9.5,"j":-0.75},{"g":"Controls","v":9.6,"j":-0.15},{"g":"Controls","v":9.4,"j":0.45},{"g":"Controls","v":7,"j":-0.65},{"g":"Controls","v":7.1,"j":-0.1},
      {"g":"Controls","v":5,"j":-0.3},{"g":"Controls","v":5.1,"j":0.2},{"g":"Controls","v":4,"j":-0.05}
    ],
    "mf": [{"g":"AD","v":15},{"g":"VaD","v":13.6},{"g":"Controls","v":15.6}],
    "sf": [{"g":"AD","v":13.5,"v2":16.7},{"g":"VaD","v":12,"v2":15.5},{"g":"Controls","v":14.5,"v2":17}],
    "g14": [
      {"grp":"AD","res":"Positive","pct":12,"o":1},{"grp":"AD","res":"Trace","pct":13,"o":2},{"grp":"AD","res":"Negative","pct":75,"o":3},
      {"grp":"VaD","res":"Positive","pct":13.5,"o":1},{"grp":"VaD","res":"Trace","pct":5.5,"o":2},{"grp":"VaD","res":"Negative","pct":81,"o":3},
      {"grp":"Controls","res":"Positive","pct":2.5,"o":1},{"grp":"Controls","res":"Negative","pct":97.5,"o":3}
    ]
  },
  "columns": 2,
  "spacing": {"row": 80, "column": 74},
  "bounds": "flush",
  "concat": [
    {
      "width": 249, "height": 152,
      "title": {"text": "A", "dx": -66, "dy": 24},
      "encoding": {
        "x": {"field": "g", "type": "nominal", "scale": {"type": "point", "domain": ["AD", "VaD", "Controls"], "padding": 0.638, "align": 0.38}, "axis": {"title": null}},
        "y": {"field": "v", "type": "quantitative", "scale": {"type": "log", "domain": [10, 10000]}, "axis": {"title": "tau (pg/mL)", "values": [10, 100, 1000, 10000], "titleX": -61, "titleY": 74, "titleFontSize": 12}}
      },
      "layer": [
        {"data": {"name": "pa"}, "mark": {"type": "point", "filled": true, "size": 50, "color": "black", "opacity": 1},
         "encoding": {"xOffset": {"field": "j", "type": "quantitative", "scale": {"domain": [-1, 1], "range": [-20, 20]}}, "shape": {"field": "g", "type": "nominal", "scale": {"domain": ["AD", "VaD", "Controls"], "range": ["square", "triangle-up", "circle"]}, "legend": null}}},
        {"data": {"name": "ma"}, "mark": {"type": "tick", "size": 54, "thickness": 2, "color": "black"}},
        {"data": {"name": "sa"}, "mark": {"type": "errorbar", "color": "black", "ticks": {"size": 14, "thickness": 1.5, "color": "black"}, "rule": {"strokeWidth": 1.5, "color": "black"}}, "encoding": {"y2": {"field": "v2"}}},
        {"data": {"name": "ba"}, "mark": {"type": "rule", "strokeWidth": 1.5, "color": "black"}, "encoding": {"x2": {"field": "b"}, "y2": {"field": "v2"}}},
        {"data": {"name": "ta"}, "mark": {"type": "text", "fontSize": 11.5, "fontWeight": "bold", "baseline": "middle", "align": "right", "color": "black"}, "encoding": {"xOffset": {"field": "j", "type": "quantitative", "scale": {"domain": [-1, 1], "range": [-20, 20]}}, "text": {"field": "t"}}},
        {"data": {"name": "ta"}, "mark": {"type": "text", "fontSize": 9.5, "fontWeight": "bold", "baseline": "middle", "align": "left", "dy": -3, "color": "black"}, "encoding": {"xOffset": {"field": "j", "type": "quantitative", "scale": {"domain": [-1, 1], "range": [-20, 20]}}, "text": {"field": "s"}}}
      ]
    },
    {
      "width": 256, "height": 152,
      "title": {"text": "B", "dx": -56, "dy": 4},
      "encoding": {
        "x": {"field": "g", "type": "nominal", "scale": {"type": "point", "domain": ["AD", "VaD", "Controls"], "padding": 0.707, "align": 0.63}, "axis": {"title": null}},
        "y": {"field": "v", "type": "quantitative", "scale": {"type": "log", "domain": [10, 1000]}, "axis": {"title": "p-tau (pg/mL)", "values": [10, 100, 1000], "titleX": -31, "titleY": 61, "titleFontSize": 11}}
      },
      "layer": [
        {"data": {"name": "pb"}, "mark": {"type": "point", "filled": true, "size": 50, "color": "black", "opacity": 1},
         "encoding": {"xOffset": {"field": "j", "type": "quantitative", "scale": {"domain": [-1, 1], "range": [-20, 20]}}, "shape": {"field": "g", "type": "nominal", "scale": {"domain": ["AD", "VaD", "Controls"], "range": ["square", "triangle-up", "circle"]}, "legend": null}}},
        {"data": {"name": "mb"}, "mark": {"type": "tick", "size": 54, "thickness": 2, "color": "black"}},
        {"data": {"name": "sb"}, "mark": {"type": "errorbar", "color": "black", "ticks": {"size": 14, "thickness": 1.5, "color": "black"}, "rule": {"strokeWidth": 1.5, "color": "black"}}, "encoding": {"y2": {"field": "v2"}}},
        {"data": {"name": "bb"}, "mark": {"type": "rule", "strokeWidth": 1.5, "color": "black"}, "encoding": {"x2": {"field": "b"}, "y2": {"field": "v2"}}},
        {"data": {"name": "tb"}, "mark": {"type": "text", "fontSize": 11.5, "fontWeight": "bold", "baseline": "middle", "align": "right", "color": "black"}, "encoding": {"xOffset": {"field": "j", "type": "quantitative", "scale": {"domain": [-1, 1], "range": [-20, 20]}}, "text": {"field": "t"}}},
        {"data": {"name": "tb"}, "mark": {"type": "text", "fontSize": 9.5, "fontWeight": "bold", "baseline": "middle", "align": "left", "dy": -3, "color": "black"}, "encoding": {"xOffset": {"field": "j", "type": "quantitative", "scale": {"domain": [-1, 1], "range": [-20, 20]}}, "text": {"field": "s"}}}
      ]
    },
    {
      "width": 249, "height": 152,
      "title": {"text": "C", "dx": -66, "dy": 26},
      "encoding": {
        "x": {"field": "g", "type": "nominal", "scale": {"type": "point", "domain": ["AD", "VaD", "Controls"], "padding": 0.638, "align": 0.38}, "axis": {"title": null}},
        "y": {"field": "v", "type": "quantitative", "scale": {"type": "log", "domain": [10, 10000]}, "axis": {"title": "Aβ42 (pg/mL)", "values": [10, 100, 1000, 10000], "titleX": -61, "titleY": 65, "titleFontSize": 10.5}}
      },
      "layer": [
        {"data": {"name": "pc"}, "mark": {"type": "point", "filled": true, "size": 50, "color": "black", "opacity": 1},
         "encoding": {"xOffset": {"field": "j", "type": "quantitative", "scale": {"domain": [-1, 1], "range": [-20, 20]}}, "shape": {"field": "g", "type": "nominal", "scale": {"domain": ["AD", "VaD", "Controls"], "range": ["square", "triangle-up", "circle"]}, "legend": null}}},
        {"data": {"name": "mc"}, "mark": {"type": "tick", "size": 54, "thickness": 2, "color": "black"}},
        {"data": {"name": "sc"}, "mark": {"type": "errorbar", "color": "black", "ticks": {"size": 14, "thickness": 1.5, "color": "black"}, "rule": {"strokeWidth": 1.5, "color": "black"}}, "encoding": {"y2": {"field": "v2"}}},
        {"data": {"name": "bc"}, "mark": {"type": "rule", "strokeWidth": 1.5, "color": "black"}, "encoding": {"x2": {"field": "b"}, "y2": {"field": "v2"}}},
        {"data": {"name": "tc"}, "mark": {"type": "text", "fontSize": 11.5, "fontWeight": "bold", "baseline": "middle", "align": "right", "color": "black"}, "encoding": {"xOffset": {"field": "j", "type": "quantitative", "scale": {"domain": [-1, 1], "range": [-20, 20]}}, "text": {"field": "t"}}},
        {"data": {"name": "tc"}, "mark": {"type": "text", "fontSize": 9.5, "fontWeight": "bold", "baseline": "middle", "align": "left", "dy": -3, "color": "black"}, "encoding": {"xOffset": {"field": "j", "type": "quantitative", "scale": {"domain": [-1, 1], "range": [-20, 20]}}, "text": {"field": "s"}}}
      ]
    },
    {
      "width": 256, "height": 152,
      "title": {"text": "D", "dx": -58, "dy": 14},
      "encoding": {
        "x": {"field": "g", "type": "nominal", "scale": {"type": "point", "domain": ["AD", "VaD", "Controls"], "range": [26, 256], "padding": 0.533, "align": 0.51}, "axis": {"title": null}},
        "y": {"field": "v", "type": "quantitative", "scale": {"type": "log", "domain": [10, 10000]}, "axis": {"title": "YKL-40 (pg/mL)", "values": [10, 100, 1000, 10000], "offset": -26, "titleX": -56, "titleY": 58, "titleFontSize": 11}}
      },
      "layer": [
        {"data": {"name": "pd"}, "mark": {"type": "point", "filled": true, "size": 50, "color": "black", "opacity": 1},
         "encoding": {"xOffset": {"field": "j", "type": "quantitative", "scale": {"domain": [-1, 1], "range": [-20, 20]}}, "shape": {"field": "g", "type": "nominal", "scale": {"domain": ["AD", "VaD", "Controls"], "range": ["square", "triangle-up", "circle"]}, "legend": null}}},
        {"data": {"name": "md"}, "mark": {"type": "tick", "size": 54, "thickness": 2, "color": "black"}},
        {"data": {"name": "sd"}, "mark": {"type": "errorbar", "color": "black", "ticks": {"size": 14, "thickness": 1.5, "color": "black"}, "rule": {"strokeWidth": 1.5, "color": "black"}}, "encoding": {"y2": {"field": "v2"}}},
        {"data": {"name": "bd"}, "mark": {"type": "rule", "strokeWidth": 1.5, "color": "black"}, "encoding": {"x2": {"field": "b"}, "y2": {"field": "v2"}}},
        {"data": {"name": "td"}, "mark": {"type": "text", "fontSize": 11.5, "fontWeight": "bold", "baseline": "middle", "align": "right", "color": "black"}, "encoding": {"xOffset": {"field": "j", "type": "quantitative", "scale": {"domain": [-1, 1], "range": [-20, 20]}}, "text": {"field": "t"}}},
        {"data": {"name": "td"}, "mark": {"type": "text", "fontSize": 9.5, "fontWeight": "bold", "baseline": "middle", "align": "left", "dy": -3, "color": "black"}, "encoding": {"xOffset": {"field": "j", "type": "quantitative", "scale": {"domain": [-1, 1], "range": [-20, 20]}}, "text": {"field": "s"}}}
      ]
    },
    {
      "width": 249, "height": 159,
      "title": {"text": "E", "dx": -66, "dy": 3},
      "encoding": {
        "x": {"field": "g", "type": "nominal", "scale": {"type": "point", "domain": ["AD", "VaD", "Controls"], "padding": 0.638, "align": 0.38}, "axis": {"title": null}},
        "y": {"field": "v", "type": "quantitative", "scale": {"type": "log", "domain": [0.1, 100], "range": [159, 7]}, "axis": {"title": "S100B (ng/mL)", "values": [0.1, 1, 10, 100], "titleX": -61, "titleY": 70, "titleFontSize": 12}}
      },
      "layer": [
        {"data": {"name": "pe"}, "mark": {"type": "point", "filled": true, "size": 50, "color": "black", "opacity": 1},
         "encoding": {"xOffset": {"field": "j", "type": "quantitative", "scale": {"domain": [-1, 1], "range": [-20, 20]}}, "shape": {"field": "g", "type": "nominal", "scale": {"domain": ["AD", "VaD", "Controls"], "range": ["square", "triangle-up", "circle"]}, "legend": null}}},
        {"data": {"name": "me"}, "mark": {"type": "tick", "size": 54, "thickness": 2, "color": "black"}},
        {"data": {"name": "se"}, "mark": {"type": "errorbar", "color": "black", "ticks": {"size": 14, "thickness": 1.5, "color": "black"}, "rule": {"strokeWidth": 1.5, "color": "black"}}, "encoding": {"y2": {"field": "v2"}}},
        {"data": {"name": "be"}, "mark": {"type": "rule", "strokeWidth": 1.5, "color": "black"}, "encoding": {"x2": {"field": "b"}, "y2": {"field": "v2"}}},
        {"data": {"name": "te"}, "mark": {"type": "text", "fontSize": 11.5, "fontWeight": "bold", "baseline": "middle", "align": "right", "color": "black"}, "encoding": {"xOffset": {"field": "j", "type": "quantitative", "scale": {"domain": [-1, 1], "range": [-20, 20]}}, "text": {"field": "t"}}},
        {"data": {"name": "te"}, "mark": {"type": "text", "fontSize": 9.5, "fontWeight": "bold", "baseline": "middle", "align": "left", "dy": -3, "color": "black"}, "encoding": {"xOffset": {"field": "j", "type": "quantitative", "scale": {"domain": [-1, 1], "range": [-20, 20]}}, "text": {"field": "s"}}}
      ]
    },
    {
      "width": 256, "height": 159,
      "title": {"text": "F", "dx": -59, "dy": 5},
      "encoding": {
        "x": {"field": "g", "type": "nominal", "scale": {"type": "point", "domain": ["AD", "VaD", "Controls"], "range": [26, 256], "padding": 0.533, "align": 0.51}, "axis": {"title": null}},
        "y": {"field": "v", "type": "quantitative", "scale": {"type": "log", "domain": [0.1, 1000], "range": [159, 7]}, "axis": {"title": "NSE (ng/mL)", "values": [0.1, 1, 10, 100, 1000], "offset": -26, "titleX": -49, "titleY": 77, "titleFontSize": 11.5}}
      },
      "layer": [
        {"data": {"name": "pf"}, "mark": {"type": "point", "filled": true, "size": 50, "color": "black", "opacity": 1},
         "encoding": {"xOffset": {"field": "j", "type": "quantitative", "scale": {"domain": [-1, 1], "range": [-20, 20]}}, "shape": {"field": "g", "type": "nominal", "scale": {"domain": ["AD", "VaD", "Controls"], "range": ["square", "triangle-up", "circle"]}, "legend": null}}},
        {"data": {"name": "mf"}, "mark": {"type": "tick", "size": 54, "thickness": 2, "color": "black"}},
        {"data": {"name": "sf"}, "mark": {"type": "errorbar", "color": "black", "ticks": {"size": 14, "thickness": 1.5, "color": "black"}, "rule": {"strokeWidth": 1.5, "color": "black"}}, "encoding": {"y2": {"field": "v2"}}}
      ]
    },
    {
      "width": 249, "height": 199,
      "title": {"text": "G", "dx": 145, "dy": 0},
      "data": {"name": "g14"},
      "mark": {"type": "bar", "stroke": "black", "strokeWidth": 1.5},
      "encoding": {
        "x": {"field": "grp", "type": "nominal", "sort": ["AD", "VaD", "Controls"], "scale": {"range": [214, 350], "paddingInner": 0.33, "paddingOuter": 0.18}, "axis": {"title": null, "labelFontSize": 13, "labelPadding": 4}},
        "y": {"field": "pct", "type": "quantitative", "stack": true, "scale": {"domain": [0, 100], "range": [199, 13]}, "axis": {"title": "14-3-3", "values": [0, 25, 50, 75, 100], "labelExpr": "datum.value + '%'", "labelFontSize": 10, "titleFontSize": 13, "offset": -214, "titleX": -64, "titleY": 106}},
        "color": {"field": "res", "type": "nominal", "scale": {"domain": ["Negative", "Trace", "Positive"], "range": ["white", "#a6a6a6", "black"]},
          "legend": {"title": null, "orient": "none", "legendX": 365, "legendY": 715, "symbolType": "M-1,-0.7H1V0.7H-1Z", "symbolSize": 289, "symbolStrokeColor": "black", "symbolStrokeWidth": 1.5, "labelFontSize": 14, "labelColor": "black", "labelOffset": 8, "rowPadding": 9}},
        "order": {"field": "o", "type": "quantitative"}
      }
    }
  ]
}
